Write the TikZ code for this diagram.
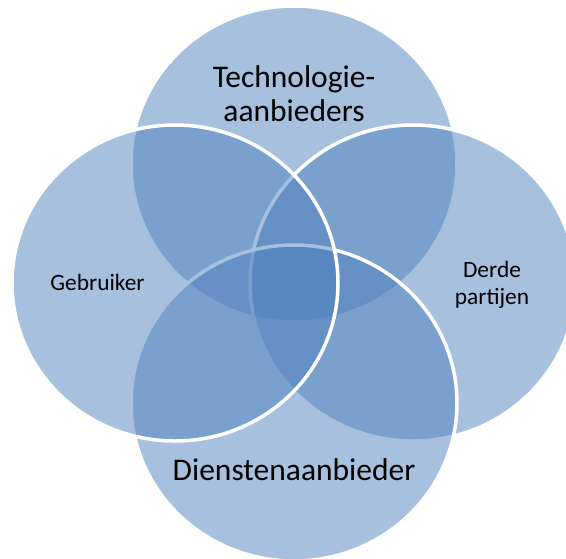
\documentclass[tikz,border=0pt]{standalone}
\usepackage{fontspec}
\setmainfont{Carlito}
\definecolor{vennblue}{HTML}{4F81BD}
\begin{document}
\begin{tikzpicture}[x=1pt,y=-1pt,
  venn/.style={fill=vennblue, fill opacity=0.5, draw=white, draw opacity=1, line width=3.5pt},
  bigtext/.style={font=\fontsize{31.5}{34}\selectfont, align=center, inner sep=0pt, text=black},
  smalltext/.style={font=\fontsize{23.4}{27.5}\selectfont, align=center, inner sep=0pt, text=black}]
\useasboundingbox (0,0) rectangle (566,558);
% circle centres
\coordinate (ctop)    at (294,164);
\coordinate (cright)  at (413,283);
\coordinate (cbottom) at (294,403);
\coordinate (cleft)   at (175,283);
% overlapping translucent circles, back to front
\path[venn] (ctop)    ellipse [x radius=163pt, y radius=158pt];
\path[venn] (cright)  ellipse [x radius=163pt, y radius=158pt];
\path[venn] (cbottom) ellipse [x radius=163pt, y radius=158pt];
\path[venn] (cleft)   ellipse [x radius=163pt, y radius=158pt];
% labels
\node[bigtext]   (ltop)    at (294,94)  {Technologie-\\aanbieders};
\node[smalltext] (lright)  at (492,285) {Derde\\partijen};
\node[bigtext, anchor=base] (lbottom) at (294,480) {Dienstenaanbieder};
\node[smalltext, anchor=base] (lleft) at (97.5,290) {Gebruiker};
\end{tikzpicture}
\end{document}
